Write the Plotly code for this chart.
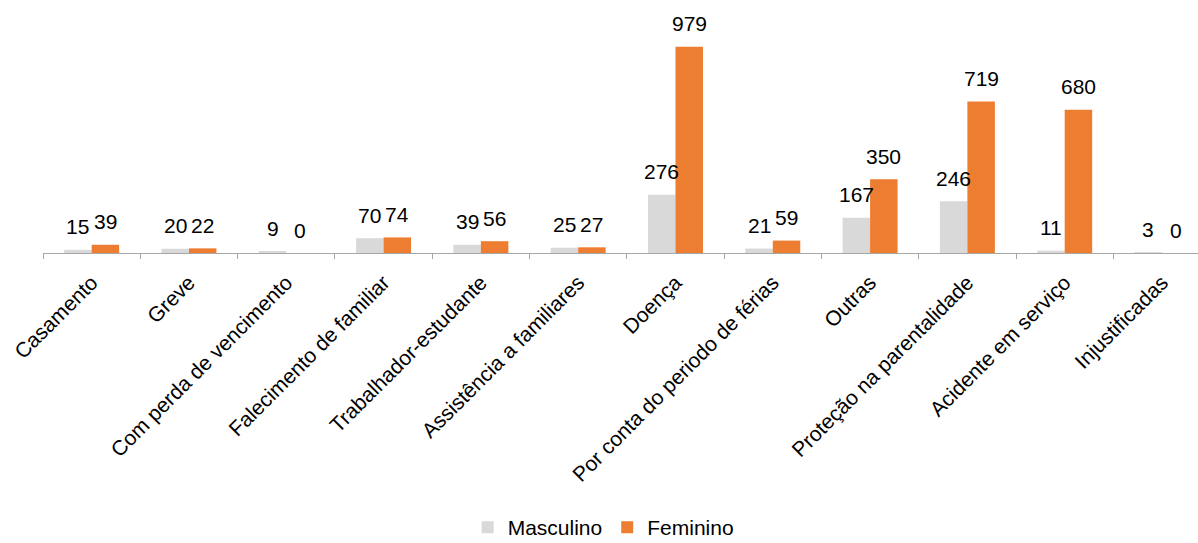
import plotly.graph_objects as go

categories = ["Casamento", "Greve", "Com perda de vencimento", "Falecimento de familiar",
              "Trabalhador-estudante", "Assistência a familiares", "Doença",
              "Por conta do periodo de férias", "Outras", "Proteção na parentalidade",
              "Acidente em serviço", "Injustificadas"]
masculino = [15, 20, 9, 70, 39, 25, 276, 21, 167, 246, 11, 3]
feminino = [39, 22, 0, 74, 56, 27, 979, 59, 350, 719, 680, 0]

FONT = "Liberation Sans, Arial, sans-serif"
FS = 21
C_M = "#D9D9D9"
C_F = "#ED7D31"

fig = go.Figure()
fig.add_trace(go.Bar(name="Masculino", x=categories, y=masculino, marker=dict(color=C_M, line=dict(width=0))))
fig.add_trace(go.Bar(name="Feminino", x=categories, y=feminino, marker=dict(color=C_F, line=dict(width=0))))

bargap = 0.435
half = (1 - bargap) / 4  # center offset of each bar within group
annotations = []
for i, (m, f) in enumerate(zip(masculino, feminino)):
    for val, off in ((m, -half), (f, half)):
        annotations.append(dict(x=i + off, y=val, xref="x", yref="y", text=str(val),
                                showarrow=False, yanchor="middle", xanchor="center",
                                yshift=23, font=dict(family=FONT, size=FS, color="#000000")))

fig.update_layout(
    width=1198, height=543,
    margin=dict(l=43, r=0, t=0, b=290, autoexpand=False),
    paper_bgcolor="white", plot_bgcolor="white",
    barmode="group", bargap=bargap, bargroupgap=0,
    font=dict(family=FONT, size=FS, color="#000000"),
    annotations=annotations,
    showlegend=True,
    legend=dict(orientation="h", x=0.485, xanchor="center", y=-1.166, yanchor="bottom",
                font=dict(family=FONT, size=FS, color="#000000"), traceorder="normal",
                borderwidth=0, tracegroupgap=0),
    xaxis=dict(type="category", range=[-0.5, 11.37], tickangle=-45, tickson="boundaries",
               ticks="outside", ticklen=5, tickcolor="#A6A6A6", tickwidth=1,
               showline=True, linecolor="#A6A6A6", linewidth=1, showgrid=False,
               automargin=False, ticklabelstandoff=8,
               tickfont=dict(family=FONT, size=FS, color="#000000")),
    yaxis=dict(range=[0, 1200.7], visible=False, showgrid=False, zeroline=False),
)

fig.write_html("out.html")
